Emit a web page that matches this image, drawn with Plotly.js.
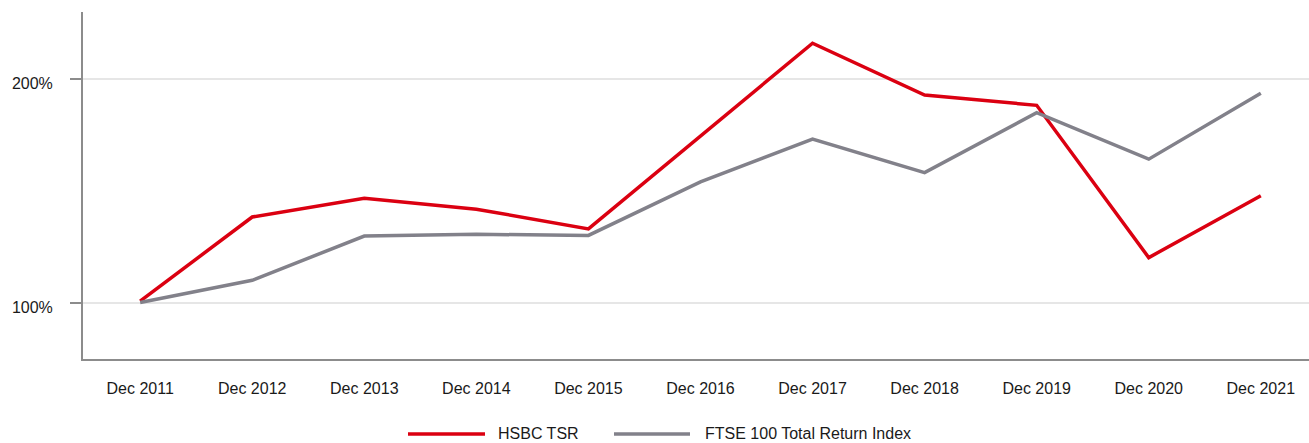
<!DOCTYPE html>
<html>
<head>
<meta charset="utf-8">
<script src="https://cdn.plot.ly/plotly-3.0.1.min.js"></script>
<style>
html,body{margin:0;padding:0;background:#fff;}
#chart{width:1309px;height:443px;}
</style>
</head>
<body>
<div id="chart"></div>
<script>
const categories = ['Dec 2011','Dec 2012','Dec 2013','Dec 2014','Dec 2015','Dec 2016','Dec 2017','Dec 2018','Dec 2019','Dec 2020','Dec 2021'];
const hsbcName = 'HSBC TSR';
const hsbcValues = [101, 138.5, 146.9, 142, 133.2, 174.6, 216, 192.9, 188.3, 120.4, 148];
const ftseName = 'FTSE 100 Total Return Index';
const ftseValues = [100.4, 110.3, 130, 130.8, 130.3, 154.2, 173.2, 158.3, 185, 164.3, 193.7];
const yTickVals = [100, 200];
const yTickText = ['100%', '200%'];

const RED = '#db0011';
const GREY = '#82818a';
const W = 1309, H = 443, ML = 83, MR = 0, MT = 12, MB = 84;
const pw = W - ML - MR, ph = H - MT - MB;
const px = x => (x - ML) / pw;
const py = y => (H - MB - y) / ph;
const font = {family: 'Liberation Sans, Arial, sans-serif', size: 16, color: '#1a1a1a'};

const traces = [
  {x: categories, y: hsbcValues, name: hsbcName, type: 'scatter', mode: 'lines',
   line: {color: RED, width: 3.5}},
  {x: categories, y: ftseValues, name: ftseName, type: 'scatter', mode: 'lines',
   line: {color: GREY, width: 3.5}}
];

const legendY = py(434);
const legendTextY = py(433);
const layout = {
  width: W, height: H,
  margin: {l: ML, r: MR, t: MT, b: MB, pad: 0},
  paper_bgcolor: '#fff', plot_bgcolor: '#fff',
  font: font,
  showlegend: false,
  xaxis: {
    type: 'category', range: [-0.51, 10.43],
    showgrid: false, zeroline: false,
    showline: true, linecolor: '#8c8c8c', linewidth: 2,
    ticks: '', ticklabelstandoff: 14,
    tickfont: font, fixedrange: true
  },
  yaxis: {
    range: [75.2, 229.9],
    tickvals: yTickVals, ticktext: yTickText,
    showgrid: true, gridcolor: '#e6e6e6', gridwidth: 2,
    zeroline: false,
    showline: true, linecolor: '#8c8c8c', linewidth: 2,
    ticks: 'outside', ticklen: 11, tickcolor: '#8c8c8c', tickwidth: 2,
    ticklabelstandoff: 14, ticklabelshift: 4,
    tickfont: font, fixedrange: true
  },
  shapes: [
    {type: 'line', xref: 'paper', yref: 'paper', x0: px(408), x1: px(485), y0: legendY, y1: legendY,
     line: {color: RED, width: 3.5}},
    {type: 'line', xref: 'paper', yref: 'paper', x0: px(614), x1: px(690), y0: legendY, y1: legendY,
     line: {color: GREY, width: 3.5}}
  ],
  annotations: [
    {xref: 'paper', yref: 'paper', x: px(497), y: legendTextY, xanchor: 'left', yanchor: 'middle',
     text: hsbcName, showarrow: false, font: font, borderpad: 0},
    {xref: 'paper', yref: 'paper', x: px(704), y: legendTextY, xanchor: 'left', yanchor: 'middle',
     text: ftseName, showarrow: false, font: font, borderpad: 0}
  ]
};

Plotly.newPlot('chart', traces, layout, {displayModeBar: false, staticPlot: true});
</script>
</body>
</html>
